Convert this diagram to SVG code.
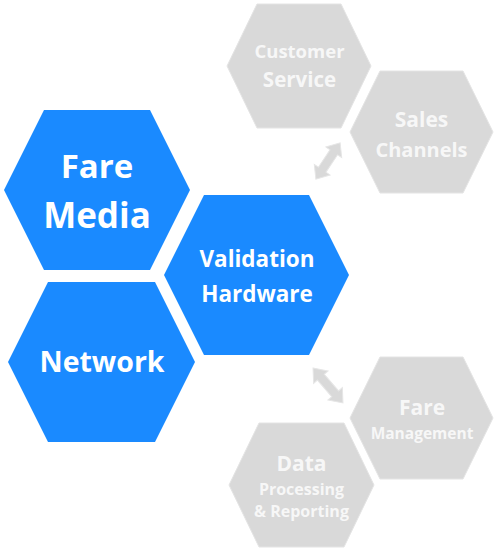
<svg xmlns="http://www.w3.org/2000/svg" width="500" height="549" viewBox="0 0 500 549">
<style>
.blue{fill:#1a8aff}
.gray{fill:#d9d9d9;stroke:#e4e4e4;stroke-width:1}
.t{font-family:"Open Sans","Noto Sans",sans-serif;font-weight:bold;text-anchor:middle}
.tb{fill:#ffffff}
.tg{fill:#f7f7f7}
.arrow{fill:#d9d9d9;stroke:#e6e6e6;stroke-width:1}
</style>
<defs>
<path id="dbl" d="M-23,0 L-11,-9.5 L-11,-4.5 L11,-4.5 L11,-9.5 L23,0 L11,9.5 L11,4.5 L-11,4.5 L-11,9.5 Z"/>
</defs>
<rect width="500" height="549" fill="#ffffff"/>
<g id="fare-media">
<polygon class="blue" points="44,110 150,110 190,190 150,270 44,270 4,190"/>
<text class="t tb" x="97" y="178" font-size="33">Fare</text>
<text class="t tb" x="97" y="228" font-size="35">Media</text>
</g>
<g id="validation-hardware">
<polygon class="blue" points="204,195 309,195 349,275 309,355 204,355 164,275"/>
<text class="t tb" x="257" y="267" font-size="22.5">Validation</text>
<text class="t tb" x="257" y="302" font-size="22.5">Hardware</text>
</g>
<g id="network">
<polygon class="blue" points="48,282 155,282 195,362 155,442 48,442 8,362"/>
<text class="t tb" x="102" y="372" font-size="28.5">Network</text>
</g>
<g id="customer-service">
<polygon class="gray" points="257,4 341,4 371,66 341,128 257,128 227,66"/>
<text class="t tg" x="299.5" y="58" font-size="18.5">Customer</text>
<text class="t tg" x="299.5" y="87" font-size="20.5">Service</text>
</g>
<g id="sales-channels">
<polygon class="gray" points="380,71 463,71 493,132 463,193 380,193 350,132"/>
<text class="t tg" x="421.5" y="127" font-size="21">Sales</text>
<text class="t tg" x="421.5" y="157" font-size="20">Channels</text>
</g>
<g id="fare-management">
<polygon class="gray" points="380,357 463,357 493,418 463,479 380,479 350,418"/>
<text class="t tg" x="422" y="415" font-size="21">Fare</text>
<text class="t tg" x="422" y="439" font-size="15.5">Management</text>
</g>
<g id="data-processing">
<polygon class="gray" points="259,423 344,423 374,485 344,547 259,547 229,485"/>
<text class="t tg" x="301.5" y="471" font-size="21">Data</text>
<text class="t tg" x="301.5" y="495" font-size="16">Processing</text>
<text class="t tg" x="301.5" y="517" font-size="16">&amp; Reporting</text>
</g>
<g id="connectors">
<use href="#dbl" class="arrow" transform="translate(328,161) rotate(-56.3) scale(0.95,1)"/>
<use href="#dbl" class="arrow" transform="translate(328,385.5) rotate(49.4)"/>
</g>
</svg>
